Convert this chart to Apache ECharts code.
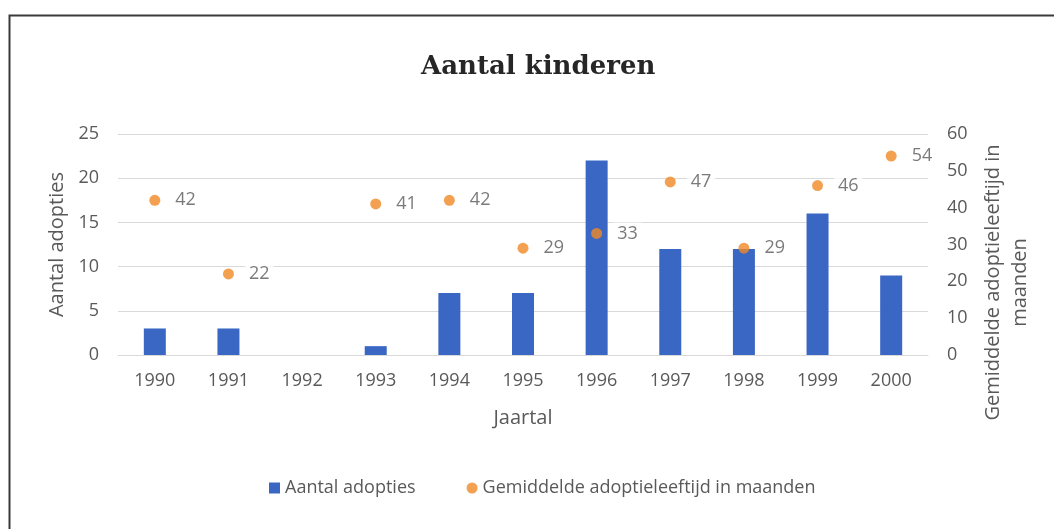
<!DOCTYPE html>
<html>
<head>
<meta charset="utf-8">
<style>
  html, body { margin: 0; padding: 0; background: #fff; }
  #chart { width: 1054px; height: 529px; }
</style>
<script src="https://cdn.jsdelivr.net/npm/echarts@6/dist/echarts.min.js"></script>
</head>
<body>
<div id="chart"></div>
<script>
const years = ['1990','1991','1992','1993','1994','1995','1996','1997','1998','1999','2000'];
const adopties = [3, 3, 0, 1, 7, 7, 22, 12, 12, 16, 9];
const leeftijd = [42, 22, null, 41, 42, 29, 33, 47, 29, 46, 54];
const leftTicks = { min: 0, max: 25, interval: 5 };
const rightTicks = { min: 0, max: 60, interval: 10 };

const FONT = '"Open Sans", "Noto Sans", sans-serif';
const GRAY = '#595959';

const chart = echarts.init(document.getElementById('chart'));
chart.setOption({
  backgroundColor: '#ffffff',
  animation: false,
  graphic: [{
    type: 'rect',
    left: 7, top: 13,
    shape: { width: 1080, height: 560 },
    style: { fill: 'none', stroke: '#3a3a3a', lineWidth: 2 },
    silent: true
  }],
  title: {
    text: 'Aantal kinderen',
    left: 416,
    top: 49,
    textStyle: { fontFamily: '"DejaVu Serif", serif', fontWeight: 'bold', fontSize: 26, color: '#262626' }
  },
  grid: { left: 118, right: 126, top: 134, bottom: 174, containLabel: false },
  legend: {
    bottom: 27,
    left: 264,
    itemGap: 51,
    itemWidth: 11, itemHeight: 11,
    textStyle: { fontFamily: FONT, fontSize: 18, color: GRAY },
    data: [
      { name: 'Aantal adopties', icon: 'rect' },
      { name: 'Gemiddelde adoptieleeftijd in maanden', icon: 'circle' }
    ]
  },
  xAxis: {
    type: 'category',
    data: years,
    name: 'Jaartal',
    nameLocation: 'middle',
    nameGap: 53,
    nameTextStyle: { fontFamily: FONT, fontSize: 20, color: GRAY },
    axisLine: { lineStyle: { color: '#d9d9d9', width: 1 } },
    axisTick: { show: false },
    axisLabel: { fontFamily: FONT, fontSize: 18, color: GRAY, margin: 17 }
  },
  yAxis: [{
    type: 'value',
    min: leftTicks.min, max: leftTicks.max, interval: leftTicks.interval,
    name: 'Aantal adopties',
    nameLocation: 'middle',
    nameGap: 51,
    nameRotate: 90,
    nameTextStyle: { fontFamily: FONT, fontSize: 20, color: GRAY },
    axisLine: { show: false },
    axisTick: { show: false },
    axisLabel: { fontFamily: FONT, fontSize: 18, color: GRAY, margin: 19 },
    splitLine: { lineStyle: { color: '#d9d9d9', width: 1 } }
  }, {
    type: 'value',
    position: 'right',
    min: rightTicks.min, max: rightTicks.max, interval: rightTicks.interval,
    name: 'Gemiddelde adoptieleeftijd in\nmaanden',
    nameLocation: 'middle',
    nameGap: 52,
    nameRotate: 90,
    nameTextStyle: { fontFamily: FONT, fontSize: 20, color: GRAY, lineHeight: 27, align: 'center', padding: [0, 76, 0, 0] },
    axisLine: { show: false },
    axisTick: { show: false },
    axisLabel: { fontFamily: FONT, fontSize: 18, color: GRAY, margin: 19 },
    splitLine: { show: false }
  }],
  series: [{
    name: 'Aantal adopties',
    type: 'bar',
    yAxisIndex: 0,
    data: adopties,
    barWidth: 22,
    itemStyle: { color: '#3a66c4' }
  }, {
    name: 'Gemiddelde adoptieleeftijd in maanden',
    type: 'scatter',
    yAxisIndex: 1,
    data: leeftijd,
    symbol: 'circle',
    symbolSize: 11,
    itemStyle: { color: '#f08a24' },
    label: {
      show: true,
      position: 'right',
      distance: 11,
      fontFamily: FONT,
      fontSize: 18,
      color: GRAY,
      backgroundColor: '#ffffff',
      padding: [2, 4]
    },
    z: 5
  }]
});
</script>
</body>
</html>
